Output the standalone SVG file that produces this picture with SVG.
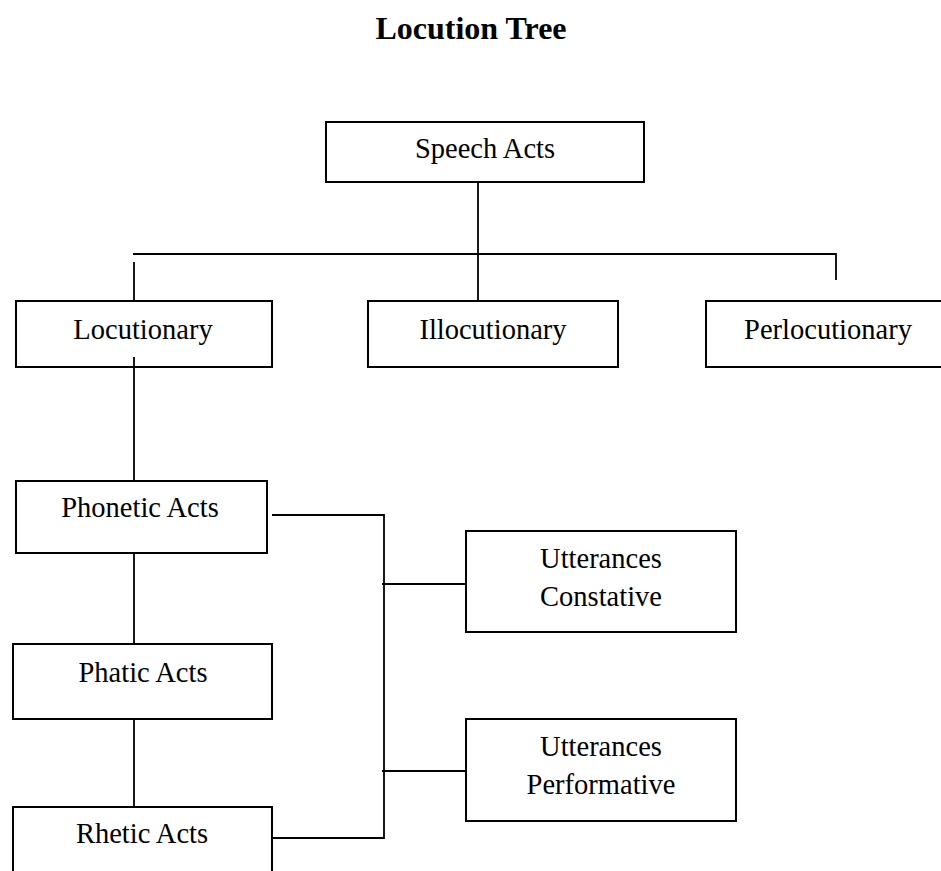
<svg xmlns="http://www.w3.org/2000/svg" width="941" height="871" viewBox="0 0 941 871">
<style>
.box{fill:#fff;stroke:#000;stroke-width:2}
.t{font-family:"Liberation Serif","Times New Roman",serif;font-size:28.5px;fill:#000;text-anchor:middle}
.title{font-family:"Liberation Serif","Times New Roman",serif;font-size:32px;font-weight:bold;fill:#000;text-anchor:middle}
.ln{fill:none;stroke:#000;stroke-width:1.8}
</style>
<rect width="941" height="871" fill="#fff"/>
<text class="title" x="471" y="39">Locution Tree</text>
<g id="connectors">
<line class="ln" x1="478" y1="182" x2="478" y2="301"/>
<polyline class="ln" points="133,254 836,254 836,280"/>
<line class="ln" x1="134" y1="262" x2="134" y2="301"/>
<line class="ln" x1="134" y1="357" x2="134" y2="481"/>
<line class="ln" x1="134" y1="553" x2="134" y2="644"/>
<line class="ln" x1="134" y1="719" x2="134" y2="807"/>
<polyline class="ln" points="272,515 384,515 384,838 273,838"/>
<line class="ln" x1="382" y1="584" x2="466" y2="584"/>
<line class="ln" x1="382" y1="771" x2="466" y2="771"/>
</g>
<g id="speech-acts">
<rect class="box" x="326" y="122" width="318" height="60"/>
<text class="t" x="485" y="158">Speech Acts</text>
</g>
<g id="locutionary">
<rect class="box" x="16" y="301" width="256" height="66"/>
<line class="ln" x1="134" y1="357" x2="134" y2="367"/>
<text class="t" x="143" y="339">Locutionary</text>
</g>
<g id="illocutionary">
<rect class="box" x="368" y="301" width="250" height="66"/>
<text class="t" x="493" y="339">Illocutionary</text>
</g>
<g id="perlocutionary">
<rect class="box" x="706" y="301" width="244" height="66"/>
<text class="t" x="828" y="339">Perlocutionary</text>
</g>
<g id="phonetic-acts">
<rect class="box" x="16" y="481" width="251" height="72"/>
<text class="t" x="140" y="517">Phonetic Acts</text>
</g>
<g id="phatic-acts">
<rect class="box" x="13" y="644" width="259" height="75"/>
<text class="t" x="143" y="682">Phatic Acts</text>
</g>
<g id="rhetic-acts">
<rect class="box" x="13" y="807" width="259" height="80"/>
<text class="t" x="142" y="843">Rhetic Acts</text>
</g>
<g id="utterances-constative">
<rect class="box" x="466" y="531" width="270" height="101"/>
<text class="t" x="601" y="568">Utterances</text>
<text class="t" x="601" y="606">Constative</text>
</g>
<g id="utterances-performative">
<rect class="box" x="466" y="719" width="270" height="102"/>
<text class="t" x="601" y="756">Utterances</text>
<text class="t" x="601" y="794">Performative</text>
</g>
</svg>
